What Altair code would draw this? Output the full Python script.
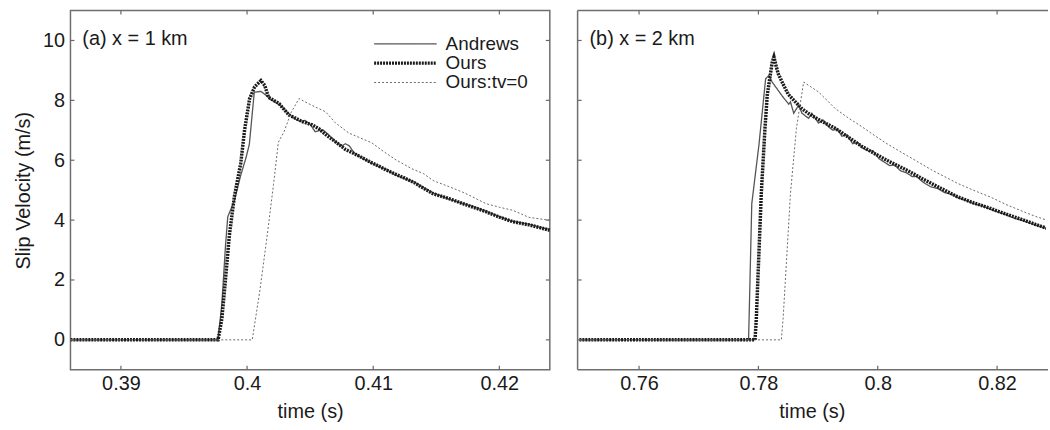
import altair as alt
import pandas as pd

FONT = "Liberation Sans"
SERIES = ["Andrews", "Ours", "Ours:tv=0"]
STYLES = {
    "Andrews": dict(color="#555555", strokeDash=[1, 0], strokeWidth=1.3),
    "Ours": dict(color="#1a1a1a", strokeDash=[2, 1], strokeWidth=3.5),
    "Ours:tv=0": dict(color="#6a6a6a", strokeDash=[2, 2], strokeWidth=1.0),
}

# ---------------- panel (a): x = 1 km ----------------
a_andrews_t = [0.386, 0.3977, 0.3980, 0.3983, 0.39847, 0.3990, 0.3995, 0.39992, 0.40018, 0.40057,
               0.4011, 0.4015, 0.40176, 0.4023, 0.4028, 0.4033, 0.4038, 0.4042, 0.4046, 0.4050,
               0.4054, 0.4057, 0.4060, 0.4064, 0.4070, 0.4075, 0.4078, 0.4081, 0.4085, 0.4091,
               0.4098, 0.4104, 0.4110, 0.4117, 0.4125, 0.4133, 0.4140, 0.4148, 0.4160, 0.4171,
               0.4180, 0.4189, 0.4200, 0.4210, 0.4224, 0.4232, 0.4240]
a_andrews_v = [0, 0, 1.2, 3.2, 4.11, 4.66, 5.5, 6.09, 6.53, 8.27,
               8.30, 8.17, 8.06, 7.92, 7.78, 7.55, 7.38, 7.30, 7.33, 7.2,
               6.95, 6.99, 7.02, 6.88, 6.62, 6.48, 6.55, 6.48, 6.24, 6.08,
               5.92, 5.80, 5.70, 5.52, 5.38, 5.26, 5.08, 4.90, 4.70, 4.56,
               4.44, 4.30, 4.12, 3.96, 3.86, 3.76, 3.68]

a_ours_t = [0.386, 0.3977, 0.3980, 0.3982, 0.3986, 0.3990, 0.3995, 0.3998, 0.4002, 0.4006,
            0.4011, 0.4014, 0.4017, 0.4021, 0.40254, 0.40333, 0.40438, 0.40517, 0.4057, 0.40622,
            0.4070, 0.40780, 0.4085, 0.40910, 0.4098, 0.41042, 0.4110, 0.41173, 0.4125, 0.41331,
            0.4140, 0.41475, 0.4160, 0.41711, 0.4180, 0.41894, 0.4200, 0.42105, 0.42236, 0.4232,
            0.42394, 0.4240]
a_ours_v = [0, 0, 0.7, 1.6, 3.5, 4.8, 5.9, 7.0, 8.05, 8.45,
            8.66, 8.5, 8.1, 8.0, 7.89, 7.51, 7.29, 7.18, 7.05, 6.86,
            6.62, 6.36, 6.22, 6.09, 5.93, 5.81, 5.68, 5.54, 5.40, 5.24,
            5.06, 4.88, 4.72, 4.55, 4.42, 4.28, 4.10, 3.95, 3.84, 3.75,
            3.67, 3.66]

a_tv0_t = [0.386, 0.40041, 0.4010, 0.4016, 0.4021, 0.40248, 0.40293, 0.4035, 0.40412, 0.4046,
           0.4052, 0.40622, 0.4070, 0.40806, 0.40989, 0.4108, 0.41173, 0.41304, 0.4140, 0.41475,
           0.4160, 0.41711, 0.4180, 0.41894, 0.4200, 0.42105, 0.42236, 0.42394, 0.4240]
a_tv0_v = [0, 0, 1.6, 3.5, 5.2, 6.6, 6.95, 7.6, 8.06, 7.95,
           7.82, 7.62, 7.25, 6.91, 6.58, 6.30, 6.03, 5.72, 5.55, 5.32,
           5.12, 4.93, 4.75, 4.55, 4.43, 4.33, 4.09, 4.0, 4.0]

# ---------------- panel (b): x = 2 km ----------------
b_andrews_t = [0.75, 0.77835, 0.77844, 0.77889, 0.7801, 0.78121, 0.78176, 0.78231, 0.78397, 0.78509,
               0.78537, 0.78592, 0.78675, 0.7873, 0.78841, 0.78896, 0.79007, 0.7908, 0.7918, 0.7925,
               0.7932, 0.7940, 0.7948, 0.7958, 0.7966, 0.7975, 0.7985, 0.7992, 0.8002, 0.8010,
               0.8020, 0.8028, 0.8038, 0.8048, 0.8058, 0.8065, 0.8075, 0.8088, 0.8100, 0.8112,
               0.8125, 0.8135, 0.8148, 0.8160, 0.8175, 0.8189, 0.8200, 0.8215, 0.8230, 0.8244,
               0.8258, 0.8270, 0.8283]
b_andrews_v = [0, 0, 0.71, 4.55, 6.53, 8.72, 8.83, 8.61, 8.15, 7.87,
               7.95, 7.57, 7.84, 7.57, 7.40, 7.57, 7.24, 7.35, 7.1, 7.0,
               7.05, 6.8, 6.85, 6.55, 6.6, 6.4, 6.3, 6.32, 6.05, 5.95,
               5.82, 5.84, 5.65, 5.58, 5.45, 5.46, 5.28, 5.12, 5.06, 4.92,
               4.85, 4.74, 4.66, 4.55, 4.48, 4.36, 4.28, 4.18, 4.05, 3.98,
               3.88, 3.80, 3.72]

b_ours_t = [0.75, 0.77943, 0.77965, 0.78048, 0.7811, 0.78148, 0.78231, 0.7826, 0.7829, 0.7833,
            0.78397, 0.7850, 0.7862, 0.7873, 0.78841, 0.7906, 0.79285, 0.7950, 0.79727, 0.7995,
            0.80171, 0.80504, 0.8075, 0.8100, 0.81335, 0.8160, 0.81888, 0.8215, 0.82444, 0.8265,
            0.8283]
b_ours_v = [0, 0, 0.71, 4.88, 7.07, 8.17, 9.27, 9.45, 9.2, 8.9,
            8.61, 8.2, 7.95, 7.72, 7.56, 7.3, 7.07, 6.78, 6.47, 6.22,
            5.98, 5.65, 5.38, 5.12, 4.78, 4.58, 4.39, 4.20, 4.0, 3.85,
            3.73]

b_tv0_t = [0.75, 0.78384, 0.78414, 0.78537, 0.78637, 0.78758, 0.7888, 0.79007, 0.7915, 0.79285,
           0.7950, 0.79727, 0.7995, 0.80171, 0.80504, 0.8090, 0.81335, 0.8160, 0.81888, 0.8215,
           0.82444, 0.8265, 0.8283]
b_tv0_v = [0, 0, 0.71, 4.88, 7.07, 8.61, 8.45, 8.28, 8.0, 7.73,
           7.42, 7.13, 6.82, 6.53, 6.14, 5.68, 5.23, 5.0, 4.77, 4.52,
           4.28, 4.12, 4.0]

Y_TICKS = [0, 2, 4, 6, 8, 10]
A_X_TICKS = [0.39, 0.40, 0.41, 0.42]
B_X_TICKS = [0.76, 0.78, 0.80, 0.82]
A_DOMAIN = [0.386, 0.424]
B_DOMAIN = [0.7497, 0.8282]
Y_DOMAIN = [-1, 11]

H = 362
A_W = 483
B_W = 472


def panel(parts, xdomain, xticks, width, label, show_y_axis, show_legend, right_border):
    xs = alt.Scale(domain=xdomain, nice=False, zero=False)
    ys = alt.Scale(domain=Y_DOMAIN, nice=False, zero=False)
    x_enc = alt.X("t:Q", scale=xs,
                  axis=alt.Axis(values=xticks, format="~g", title="time (s)",
                                labelPadding=4, titlePadding=8))
    if show_y_axis:
        y_enc = alt.Y("v:Q", scale=ys,
                      axis=alt.Axis(values=Y_TICKS, format="d", title="Slip Velocity (m/s)",
                                    labelPadding=6, titlePadding=9))
    else:
        y_enc = alt.Y("v:Q", scale=ys, axis=None)

    layers = []
    for name, ts, vs in parts:
        df = pd.DataFrame({"t": ts, "v": vs})
        st = STYLES[name]
        layers.append(alt.Chart(df).mark_line(
            clip=True, strokeCap="butt", color=st["color"],
            strokeDash=st["strokeDash"], strokeWidth=st["strokeWidth"]
        ).encode(x=x_enc, y=y_enc))

    xt = pd.DataFrame({"t": xticks})
    yt = pd.DataFrame({"v": Y_TICKS})
    tick_style = dict(color="#666666", strokeWidth=1.2)
    layers.append(alt.Chart(xt).mark_rule(**tick_style).encode(
        x=x_enc, y=alt.value(H), y2=alt.value(H - 4)))
    layers.append(alt.Chart(xt).mark_rule(**tick_style).encode(
        x=x_enc, y=alt.value(0), y2=alt.value(4)))
    layers.append(alt.Chart(yt).mark_rule(**tick_style).encode(
        y=y_enc, x=alt.value(0), x2=alt.value(4)))
    one = pd.DataFrame({"k": [0]})
    if right_border:
        layers.append(alt.Chart(yt).mark_rule(**tick_style).encode(
            y=y_enc, x=alt.value(width - 4), x2=alt.value(width)))
    else:
        border_style = dict(color="#6e6e6e", strokeWidth=1.5)
        layers.append(alt.Chart(one).mark_rule(**border_style).encode(
            x=alt.value(0), x2=alt.value(width + 2), y=alt.value(0)))
        layers.append(alt.Chart(one).mark_rule(**border_style).encode(
            x=alt.value(0), x2=alt.value(width + 2), y=alt.value(H)))
        layers.append(alt.Chart(one).mark_rule(**border_style).encode(
            x=alt.value(0), y=alt.value(0), y2=alt.value(H)))

    if show_legend:
        leg_y = [33.5, 53, 72.5]
        for name, yy in zip(SERIES, leg_y):
            st = STYLES[name]
            layers.append(alt.Chart(one).mark_rule(
                color=st["color"], strokeDash=st["strokeDash"],
                strokeWidth=st["strokeWidth"], strokeCap="butt"
            ).encode(x=alt.value(306), x2=alt.value(369), y=alt.value(yy)))
            layers.append(alt.Chart(pd.DataFrame({"label": [name]})).mark_text(
                align="left", baseline="middle", fontSize=19, font=FONT, color="#1a1a1a"
            ).encode(text="label:N", x=alt.value(378), y=alt.value(yy)))

    txt = alt.Chart(pd.DataFrame({"label": [label]})).mark_text(
        align="left", baseline="middle", fontSize=20, font=FONT, color="#1a1a1a"
    ).encode(text="label:N", x=alt.value(12), y=alt.value(29))
    layers.append(txt)

    ch = alt.layer(*layers).properties(width=width, height=H)
    if not right_border:
        ch = ch.properties(view=alt.ViewBackground(stroke="transparent"))
    return ch


left = panel([("Andrews", a_andrews_t, a_andrews_v),
              ("Ours", a_ours_t, a_ours_v),
              ("Ours:tv=0", a_tv0_t, a_tv0_v)],
             A_DOMAIN, A_X_TICKS, A_W, "(a) x = 1 km", True, True, True)
right = panel([("Andrews", b_andrews_t, b_andrews_v),
               ("Ours", b_ours_t, b_ours_v),
               ("Ours:tv=0", b_tv0_t, b_tv0_v)],
              B_DOMAIN, B_X_TICKS, B_W, "(b) x = 2 km", False, False, False)

chart = alt.hconcat(left, right, spacing=24).resolve_scale(
    x="independent", y="independent"
).properties(
    padding={"left": 13, "top": 7, "right": 0, "bottom": 0},
    background="white",
).configure_view(
    stroke="#6e6e6e", strokeWidth=1.5
).configure_axis(
    ticks=False, domain=False, grid=False,
    labelFont=FONT, titleFont=FONT, labelFontSize=20, titleFontSize=20,
    titleFontWeight="normal", labelColor="#1a1a1a", titleColor="#1a1a1a",
)

chart.save("out.html", embed_options={"renderer": "svg", "actions": False})
